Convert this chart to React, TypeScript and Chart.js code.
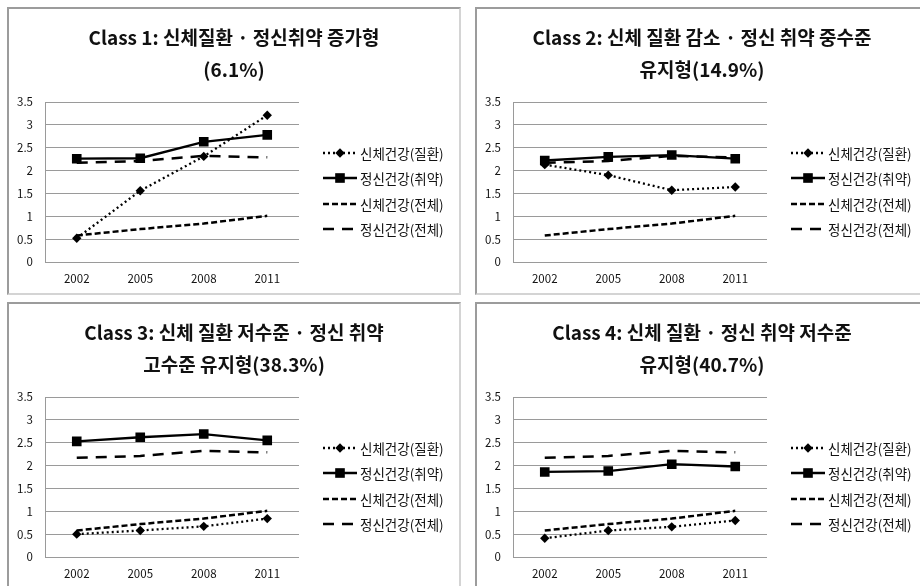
import React, { useEffect, useRef } from "react";
import { Chart, registerables } from "chart.js";

Chart.register(...registerables);

const years = ["2002", "2005", "2008", "2011"];
const yTicks = [0, 0.5, 1, 1.5, 2, 2.5, 3, 3.5];
const seriesLabels = ["신체건강(질환)", "정신건강(취약)", "신체건강(전체)", "정신건강(전체)"];

const physicalTotal = [0.58, 0.72, 0.84, 1.01];
const mentalTotal = [2.17, 2.21, 2.32, 2.29];

const class1Physical = [0.52, 1.56, 2.31, 3.21];
const class1Mental = [2.26, 2.27, 2.63, 2.78];
const class2Physical = [2.13, 1.9, 1.57, 1.64];
const class2Mental = [2.22, 2.3, 2.34, 2.26];
const class3Physical = [0.5, 0.58, 0.67, 0.84];
const class3Mental = [2.53, 2.62, 2.69, 2.55];
const class4Physical = [0.41, 0.58, 0.66, 0.8];
const class4Mental = [1.86, 1.88, 2.03, 1.98];

const title1 = ["Class 1: 신체질환 · 정신취약 증가형", "(6.1%)"];
const title2 = ["Class 2: 신체 질환 감소 · 정신 취약 중수준", "유지형(14.9%)"];
const title3 = ["Class 3: 신체 질환 저수준 · 정신 취약", "고수준 유지형(38.3%)"];
const title4 = ["Class 4: 신체 질환 · 정신 취약 저수준", "유지형(40.7%)"];

const FONT = '"Noto Sans CJK KR", "Noto Sans", sans-serif';
const CW = 450;
const CH = 284;

const sideLegend = {
  id: "sideLegend",
  afterDraw(chart: any) {
    const ctx = chart.ctx as CanvasRenderingContext2D;
    const x0 = chart.chartArea.right + 24;
    const x1 = x0 + 34;
    const tx = x1 + 3;
    const rows = [144, 169, 195, 220];
    chart.data.datasets.forEach((ds: any, i: number) => {
      const y = rows[i];
      ctx.save();
      ctx.strokeStyle = ds.borderColor;
      ctx.lineWidth = ds.borderWidth;
      ctx.setLineDash(ds.borderDash || []);
      ctx.beginPath();
      ctx.moveTo(x0, y);
      ctx.lineTo(x1, y);
      ctx.stroke();
      ctx.setLineDash([]);
      const mx = (x0 + x1) / 2;
      ctx.fillStyle = ds.pointBackgroundColor || "#000";
      if (ds.pointRadius > 0 && ds.pointStyle === "rectRot") {
        const r = ds.pointRadius;
        ctx.beginPath();
        ctx.moveTo(mx, y - r);
        ctx.lineTo(mx + r, y);
        ctx.lineTo(mx, y + r);
        ctx.lineTo(mx - r, y);
        ctx.closePath();
        ctx.fill();
      } else if (ds.pointRadius > 0 && ds.pointStyle === "rect") {
        const s = ds.pointRadius * Math.SQRT1_2;
        ctx.fillRect(mx - s, y - s, 2 * s, 2 * s);
      }
      ctx.fillStyle = "#111";
      ctx.font = `13.5px ${FONT}`;
      ctx.textAlign = "left";
      ctx.textBaseline = "middle";
      ctx.fillText(seriesLabels[i], tx, y + 1);
      ctx.restore();
    });
  },
};

function Panel({ title, physical, mental, left, top }: any) {
  const ref = useRef<HTMLCanvasElement | null>(null);
  useEffect(() => {
    if (!ref.current) return;
    const chart = new Chart(ref.current, {
      type: "line",
      data: {
        labels: years,
        datasets: [
          {
            label: seriesLabels[0],
            data: physical,
            borderColor: "#000",
            backgroundColor: "#000",
            pointBackgroundColor: "#000",
            pointBorderColor: "#000",
            borderWidth: 2.3,
            borderDash: [2, 3],
            pointStyle: "rectRot",
            pointRadius: 4.7,
            pointBorderWidth: 0,
            tension: 0,
          },
          {
            label: seriesLabels[1],
            data: mental,
            borderColor: "#000",
            backgroundColor: "#000",
            pointBackgroundColor: "#000",
            pointBorderColor: "#000",
            borderWidth: 2.3,
            pointStyle: "rect",
            pointRadius: 6.8,
            pointBorderWidth: 0,
            tension: 0,
          },
          {
            label: seriesLabels[2],
            data: physicalTotal,
            borderColor: "#000",
            backgroundColor: "#000",
            borderWidth: 2.5,
            borderDash: [6, 3],
            pointRadius: 0,
            tension: 0,
          },
          {
            label: seriesLabels[3],
            data: mentalTotal,
            borderColor: "#000",
            backgroundColor: "#000",
            borderWidth: 2.5,
            borderDash: [11, 8],
            pointRadius: 0,
            tension: 0,
          },
        ],
      },
      options: {
        animation: false,
        responsive: false,
        events: [],
        layout: { padding: 0 },
        plugins: {
          legend: { display: false },
          tooltip: { enabled: false },
          title: {
            display: true,
            text: title,
            color: "#111",
            font: { family: FONT, size: 19, weight: "bold", lineHeight: "32px" },
            padding: { top: 13, bottom: 16 },
          },
        },
        scales: {
          x: {
            type: "category",
            offset: true,
            grid: { display: false, drawTicks: false },
            border: { display: false },
            ticks: { color: "#111", font: { family: FONT, size: 11.5 }, padding: 10 },
            afterFit: (s: any) => {
              s.height = CH - 253;
            },
          },
          y: {
            min: 0,
            max: 3.5,
            grid: { color: "#9a9a9a", lineWidth: 1, drawTicks: false },
            border: { display: true, color: "#9a9a9a", width: 1 },
            afterBuildTicks: (s: any) => {
              s.ticks = yTicks.map((v) => ({ value: v }));
            },
            ticks: {
              color: "#111",
              font: { family: FONT, size: 11.5 },
              padding: 12,
              callback: (v: any) => String(v),
            },
            afterFit: (s: any) => {
              s.width = 36;
            },
          },
          legendSpace: {
            type: "linear",
            position: "right",
            display: true,
            grid: { display: false, drawTicks: false },
            border: { display: false },
            ticks: { display: false },
            afterFit: (s: any) => {
              s.width = CW - 290;
            },
          },
        },
      },
      plugins: [sideLegend],
    });
    return () => chart.destroy();
  }, []);
  return (
    <div
      style={{
        position: "absolute",
        left,
        top,
        width: 454,
        height: 288,
        boxSizing: "border-box",
        borderTop: "2px solid #9c9c9c",
        borderLeft: "2px solid #9c9c9c",
        borderBottom: "2px solid #d4d4d4",
        borderRight: "2px solid #d4d4d4",
        background: "#fff",
      }}
    >
      <canvas ref={ref} width={CW} height={CH} style={{ display: "block", width: CW, height: CH }} />
    </div>
  );
}

export default function App() {
  return (
    <div
      style={{
        position: "fixed",
        left: 0,
        top: 0,
        width: 920,
        height: 586,
        overflow: "hidden",
        background: "#fff",
      }}
    >
      <Panel title={title1} physical={class1Physical} mental={class1Mental} left={7} top={7} />
      <Panel title={title2} physical={class2Physical} mental={class2Mental} left={475} top={7} />
      <Panel title={title3} physical={class3Physical} mental={class3Mental} left={7} top={302} />
      <Panel title={title4} physical={class4Physical} mental={class4Mental} left={475} top={302} />
    </div>
  );
}
